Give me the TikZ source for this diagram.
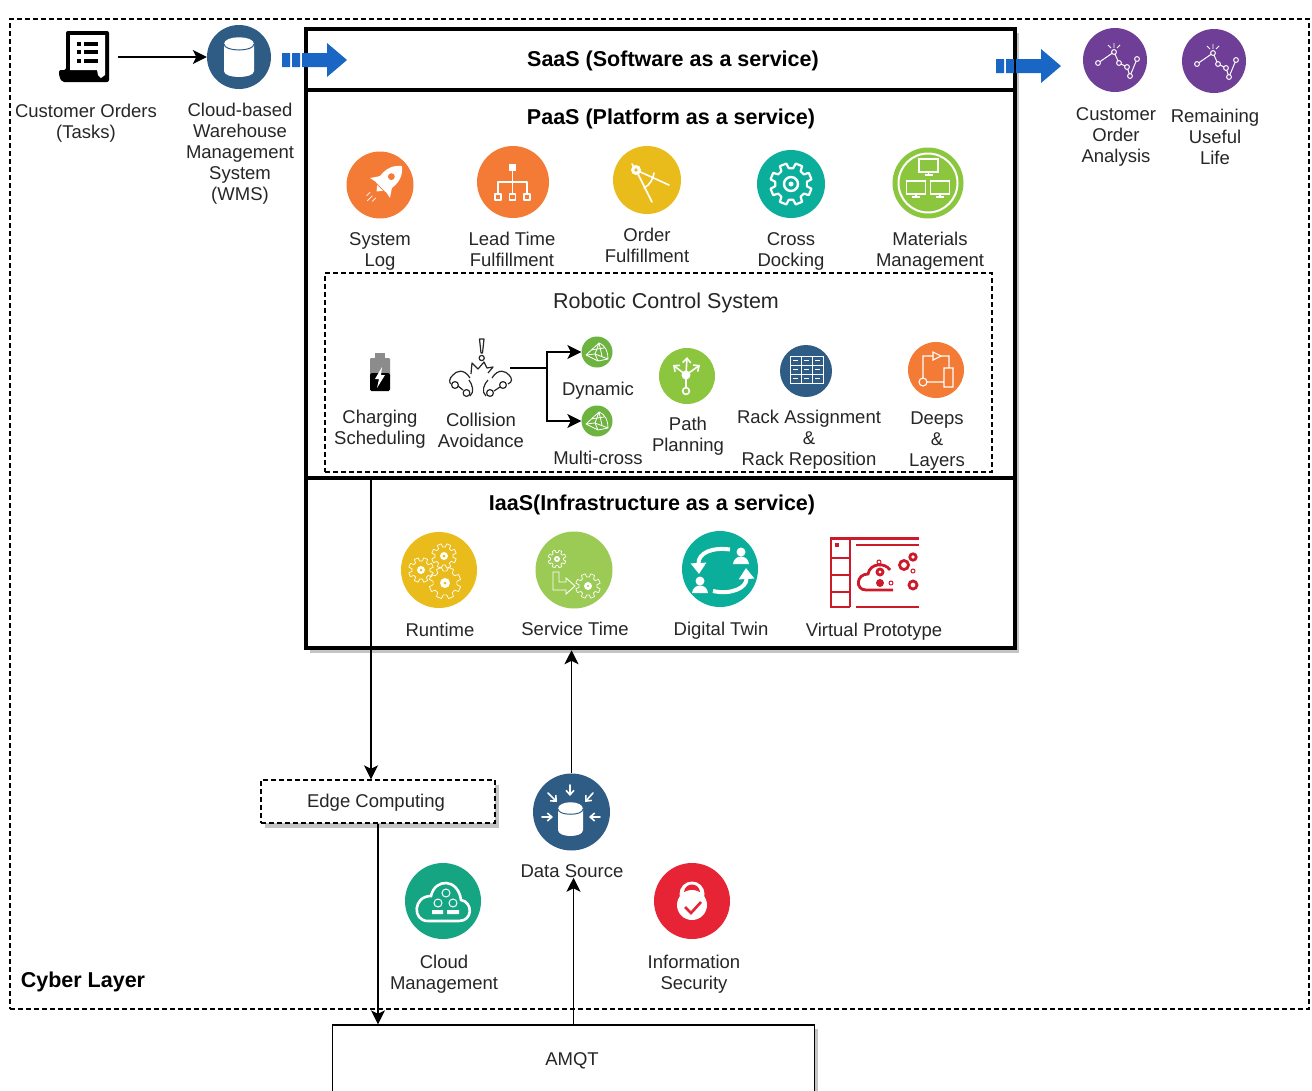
\documentclass[tikz,border=0pt]{standalone}
\usepackage{fontspec}
\setmainfont{Liberation Sans}
\usetikzlibrary{arrows.meta,calc}

\definecolor{cOrange}{HTML}{F47B36}
\definecolor{cYellow}{HTML}{E9BC1C}
\definecolor{cTeal}{HTML}{0BAE9A}
\definecolor{cLime}{HTML}{8CC63F}
\definecolor{cLeaf}{HTML}{6DB33F}
\definecolor{cSoft}{HTML}{9CCB55}
\definecolor{cNavy}{HTML}{2F5C85}
\definecolor{cMint}{HTML}{16A583}
\definecolor{cRed}{HTML}{E62435}
\definecolor{cCrimson}{HTML}{CC1A2B}
\definecolor{cPurple}{HTML}{6F3F98}
\definecolor{cBlue}{HTML}{1A66C4}
\definecolor{cShade}{HTML}{C4C4C4}

\newcommand{\GEARICON}[5]{%
  \draw[white, line width=#5, line join=round, shift={(#1,#2)}] (8:#3)
    foreach \a in {0,45,...,315} { -- (\a+8:#3) -- (\a+13:#4) -- (\a+32:#4) -- (\a+37:#3) } -- cycle;
}
\newcommand{\TRENDICON}[2]{%
  \draw[white, line width=1pt, fill=cPurple, shift={(#1,#2)}]
    (-17,3) -- (-1,-8) -- (4,3) -- (12,7) -- (15,16) -- (22,-1);
  \foreach \px/\py in {-17/3,-1/-8,4/3,12/7,15/16,22/-1}
    \draw[white, line width=1pt, fill=cPurple, shift={(#1,#2)}] (\px,\py) circle (2.4);
  \draw[white, line width=.8pt, shift={(#1,#2)}] (-1,-12) -- (-1,-17) (-4,-12) -- (-7,-15) (2,-12) -- (5,-15);
}
\newcommand{\MESHICON}[2]{%
  \draw[white, line width=.8pt, line join=round, shift={(#1,#2)}]
    (-11,3) -- (2,-9) .. controls (9,-6) and (11,0) .. (11,7) -- (-2,2) -- cycle
    (2,-9) -- (-2,2) (2,-9) -- (5,4) (-6,-2) -- (7,-4) (-11,3) -- (1,9) -- (11,7) (1,9) -- (-2,2);
}
\newcommand{\BLOCKARROW}[2]{%
  \fill[cBlue, shift={(#1,#2)}] (0,-7) rectangle (8,7) (10,-7) rectangle (18,7) (20,-7) rectangle (28,7);
  \fill[cBlue, shift={(#1,#2)}] (28,-7) -- (45,-7) -- (45,-17) -- (65,0) -- (45,17) -- (45,7) -- (28,7) -- cycle;
}

\begin{document}
\begin{tikzpicture}[x=1pt, y=-1pt]
  \tikzstyle{ICON} = [circle, inner sep=0pt, draw=none]
  \tikzstyle{TXT} = [align=center, inner sep=0pt, text=black!85, font=\fontsize{18.5}{21}\selectfont]
  \tikzstyle{TITLE} = [inner sep=0pt, font=\fontsize{21.5}{24}\selectfont\bfseries]
  \tikzstyle{LAYER} = [draw, rectangle, fill=white, line width=4pt, minimum width=709, inner sep=0pt]
  \tikzstyle{DASHED} = [draw, dash pattern=on 5pt off 3pt, rectangle, line width=1.4pt, inner sep=0pt]
  \tikzstyle{ARR} = [-{Stealth[length=14pt,width=14pt,inset=3.5pt]}, line width=1.4pt]
  \tikzstyle{GLYPH} = [white, line width=1.6pt, line cap=round, line join=round]
  \tikzstyle{BARB} = [GLYPH, -{Straight Barb[length=4.5pt,width=8pt]}]

  \useasboundingbox (0,0) rectangle (1312,1090);

  %%%%% FRAMES

  \node[DASHED, minimum width=1299, minimum height=990] (cyber) at (659.5,514) {};
  \fill[cShade] (310,33) rectangle (1019,653);
  \fill[cShade] (265,785) rectangle (499,828);
  \fill[cShade] (337,1029) rectangle (818,1095);

  \node[LAYER, minimum height=61] (saas) at (660.5,59.5) {};
  \node[LAYER, minimum height=388] (paas) at (660.5,284) {};
  \node[LAYER, minimum height=170, line width=4.5pt] (iaas) at (660.5,563) {};
  \node[DASHED, minimum width=667, minimum height=199] (robot) at (658.5,372.5) {};
  \node[DASHED, fill=white, minimum width=234, minimum height=43] (edge) at (378,801.5) {};
  \node[draw, fill=white, line width=1.3pt, minimum width=482, minimum height=67] (amqt) at (573.5,1058.5) {};

  %%%%% TEXT

  \node[TITLE] (tsaas) at (673,61) {SaaS (Software as a service)};
  \node[TITLE] (tpaas) at (671,119) {PaaS (Platform as a service)};
  \node[TITLE] (tiaas) at (652,505) {IaaS(Infrastructure as a service)};
  \node[TXT, font=\fontsize{21.5}{24}\selectfont] (trobot) at (666,303) {Robotic Control System};
  \node[TITLE] (tcyber) at (83,982) {Cyber Layer};

  \node[TXT] (lorders) at (86,123) {Customer Orders\\(Tasks)};
  \node[TXT] (lwms) at (240,153.5) {Cloud-based\\Warehouse\\Management\\System\\(WMS)};
  \node[TXT] (lcust) at (1116,137) {Customer\\Order\\Analysis};
  \node[TXT] (lrul) at (1215,137) {Remaining\\Useful\\Life};
  \node[TXT] (lsyslog) at (380,251) {System\\Log};
  \node[TXT] (llead) at (512,249) {Lead Time\\ Fulfillment};
  \node[TXT] (lorder) at (647,245) {Order\\Fulfillment};
  \node[TXT] (lcross) at (791,251) {Cross\\Docking};
  \node[TXT] (lmat) at (930,251) {Materials\\Management};
  \node[TXT] (lcharge) at (380,429) {Charging\\Scheduling};
  \node[TXT] (lcoll) at (481,430) {Collision\\Avoidance};
  \node[TXT] (ldyn) at (598,391) {Dynamic};
  \node[TXT] (lmulti) at (598,458) {Multi-cross};
  \node[TXT] (lpath) at (688,436) {Path\\Planning};
  \node[TXT] (lrack) at (809,440) {Rack Assignment\\\&\\Rack Reposition};
  \node[TXT] (ldeeps) at (937,441) {Deeps\\\&\\Layers};
  \node[TXT] (lrun) at (440,630) {Runtime};
  \node[TXT] (lserv) at (575,629) {Service Time};
  \node[TXT] (ltwin) at (721,631) {Digital Twin};
  \node[TXT] (lproto) at (874,632) {Virtual Prototype};
  \node[TXT] (ledge) at (376,803) {Edge Computing};
  \node[TXT] (ldsrc) at (572,871) {Data Source};
  \node[TXT] (lcloud) at (444,974) {Cloud\\Management};
  \node[TXT] (lsec) at (694,974) {Information\\Security};
  \node[TXT] (lamqt) at (572,1061) {AMQT};

  %%%%% ICONS

  \node[ICON, fill=cNavy, minimum size=64] (wms) at (239,57) {};
  \node[ICON, fill=cOrange, minimum size=67] (syslog) at (380,185) {};
  \node[ICON, fill=cOrange, minimum size=72] (lead) at (513,182) {};
  \node[ICON, fill=cYellow, minimum size=68] (order) at (647,180) {};
  \node[ICON, fill=cTeal, minimum size=68] (cross) at (791,184) {};
  \node[ICON, fill=cLime, minimum size=71] (mat) at (928,183) {};
  \node[ICON, fill=cLeaf, minimum size=31] (dyn) at (597,352) {};
  \node[ICON, fill=cLeaf, minimum size=31] (multi) at (597,421) {};
  \node[ICON, fill=cLime, minimum size=56] (path) at (687,376) {};
  \node[ICON, fill=cNavy, minimum size=52] (rack) at (806,371) {};
  \node[ICON, fill=cOrange, minimum size=56] (deeps) at (936,370) {};
  \node[ICON, fill=cYellow, minimum size=76] (run) at (439,570) {};
  \node[ICON, fill=cSoft, minimum size=77] (serv) at (574,570) {};
  \node[ICON, fill=cTeal, minimum size=76] (twin) at (720,569) {};
  \node[ICON, fill=cNavy, minimum size=77] (dsrc) at (571.5,812) {};
  \node[ICON, fill=cMint, minimum size=76] (cloud) at (443,901) {};
  \node[ICON, fill=cRed, minimum size=76] (sec) at (692,901) {};
  \node[ICON, fill=cPurple, minimum size=64] (cust) at (1115,60) {};
  \node[ICON, fill=cPurple, minimum size=64] (rul) at (1214,61) {};
  \node[minimum width=66, minimum height=52, inner sep=0pt] (orders) at (85,57) {};
  \node[minimum width=60, minimum height=30, inner sep=0pt] (coll) at (480,368) {};

  %%%%% GLYPHS

  % orders
  \fill[black, rounded corners=2pt] (66,31) -- (109,31) -- (109,82) -- (62,82) -- (59,76) -- (59,70) -- (66,70) -- cycle;
  \fill[white] (70,35) -- (105,35) -- (105,75) -- (101,78) -- (98,75) -- (97,70) -- (70,70) -- cycle;
  \foreach \yy in {42,50,59} {
    \fill[black] (77,\yy) rectangle (81,\yy+4);
    \fill[black] (84,\yy) rectangle (98,\yy+4);
  }

  % wms
  \fill[white] (224,44) .. controls (224,35) and (254,35) .. (254,44) -- (254,71) .. controls (254,79) and (224,79) .. (224,71) -- cycle;
  \draw[cNavy, line width=1pt] (224,44) .. controls (224,52) and (254,52) .. (254,44);

  % rocket
  \begin{scope}[shift={(385,183)}, rotate=-45]
    \fill[white] (0,-24) .. controls (10,-16) and (10,-6) .. (7,6) -- (-7,6) .. controls (-10,-6) and (-10,-16) .. (0,-24);
    \fill[white] (-6,-5) -- (-14,7) -- (-4,5) -- cycle (6,-5) -- (14,7) -- (4,5) -- cycle (-4,7) -- (4,7) -- (0,12) -- cycle;
    \fill[cOrange] (0,-9) circle (3.4);
    \draw[white, line width=.7pt] (-4,17) -- (-4,22) (0,18) -- (0,25) (4,17) -- (4,22);
  \end{scope}

  % lead time
  \fill[white] (509,164) rectangle (516,171);
  \draw[GLYPH] (512.5,171) -- (512.5,193) (498,193) -- (498,182) -- (527,182) -- (527,193);
  \foreach \xx in {498,512.5,527}
    \draw[GLYPH] (\xx-3,194) rectangle (\xx+3,200);

  % order compass
  \draw[GLYPH] (632,164) -- (636,170) -- (652,202) (636,170) -- (669,185) (654,173) .. controls (653,179) and (650,185) .. (644,188);
  \fill[white] (636,170) circle (5);
  \fill[cYellow] (636,170) circle (1.8);

  % cross gear
  \GEARICON{791}{184}{16}{21}{2.2pt}
  \draw[white, line width=2.4pt] (791,184) circle (7);
  \fill[white] (791,184) circle (2.5);

  % materials
  \draw[white, line width=2pt] (928,183) circle (29.5);
  \foreach \xx/\yy in {928.5/159,916/181,940/181} {
    \draw[white, line width=1.8pt] (\xx-9.5,\yy) rectangle (\xx+9.5,\yy+13);
    \draw[white, line width=1.6pt] (\xx,\yy+13) -- (\xx,\yy+16) (\xx-4,\yy+16) -- (\xx+4,\yy+16);
  }

  % battery
  \fill[black!45] (375,353) rectangle (385,358);
  \fill[black!45, rounded corners=1pt] (370,358) rectangle (390,378);
  \fill[black, rounded corners=1.5pt] (370,373) rectangle (390,391);
  \fill[white] (382,367) -- (375,379) -- (379,379) -- (377,388) -- (385,375) -- (381,375) -- cycle;

  % collision
  \begin{scope}[black!85, line width=1.2pt, line join=round]
    \draw (479.5,339) -- (484,339) -- (482.5,353) -- (481,353) -- cycle;
    \draw (481.7,358) circle (2.6);
    \draw (471,374) -- (472,363) -- (478,369) -- (484,362) -- (487,368) -- (493,367) -- (488,373);
    \draw (470,378) .. controls (464,368) and (456,371) .. (453,375) .. controls (449,378) and (449,383) .. (451,384);
    \draw (455,385) circle (3.4) (466.5,393) circle (3.4);
    \draw (458,386) -- (463,390);
    \draw (470,396) .. controls (475,392) and (472,384) .. (469,380);
    \draw (492,378) .. controls (498,368) and (506,371) .. (509,375) .. controls (512,378) and (513,382) .. (508,384);
    \draw (503,385) circle (3.4) (490,393) circle (3.4);
    \draw (500,387) -- (494,391);
    \draw (486,396) .. controls (481,392) and (484,384) .. (488,380);
  \end{scope}

  \MESHICON{597}{352}
  \MESHICON{597}{421}

  % path
  \draw[GLYPH, line width=2pt] (686,387) -- (686,375);
  \draw[white, line width=1.6pt] (686,391) circle (3.4);
  \fill[white] (686,375) circle (4.5);
  \draw[BARB] (686,375) -- (687,357);
  \draw[BARB] (686,375) -- (673,365);
  \draw[BARB] (686,375) -- (700,365);

  % rack
  \draw[white, line width=1pt] (790,356) rectangle (823,383);
  \foreach \xx in {801,812} \draw[white, line width=1pt] (\xx,356) -- (\xx,383);
  \foreach \yy in {365,374} \draw[white, line width=1pt] (790,\yy) -- (823,\yy);
  \foreach \xx in {795.5,806.5,817.5} \foreach \yy in {360.5,369.5,378.5}
    \draw[white, line width=.8pt] (\xx-2.5,\yy) -- (\xx+2.5,\yy);

  % deeps
  \draw[white, line width=1.1pt] (923,378) -- (923,356) -- (933,356) (941,356) -- (949,356) -- (949,368)
    (944,368) rectangle (953,387) (923,382) circle (4) (927,382) -- (944,382);
  \draw[white, line width=1.1pt] (933,352) -- (941,356) -- (933,360) -- cycle;

  % runtime
  \GEARICON{444}{556}{9}{12.5}{.7pt}
  \GEARICON{421}{570}{9}{12.5}{.7pt}
  \GEARICON{445}{583}{12}{16}{.7pt}
  \foreach \xx/\yy/\rr in {444/556/4,421/570/4,445/583/5} {
    \fill[white] (\xx,\yy) circle (\rr);
    \fill[cYellow] (\xx,\yy) circle (1.5);
  }

  % service
  \GEARICON{557}{559}{6.5}{9}{.7pt}
  \GEARICON{588}{586}{9}{12.5}{.7pt}
  \foreach \xx/\yy/\rr in {557/559/3,588/586/4} {
    \fill[white] (\xx,\yy) circle (\rr);
    \fill[cSoft] (\xx,\yy) circle (1.2);
  }
  \draw[white, line width=.9pt] (553,572) -- (559,572) -- (559,582) -- (566,582) -- (566,578) -- (575,586) -- (566,594) -- (566,590) -- (553,590) -- cycle;

  % twin
  \draw[white, line width=4pt, -{Triangle[length=11pt,width=15pt]}] (730,549.5) .. controls (712,547) and (698,553) .. (699,574);
  \draw[white, line width=4pt, -{Triangle[length=11pt,width=15pt]}] (713,591) .. controls (731,595) and (747,588) .. (746,568);
  \fill[white] (741,552) circle (4.5);
  \fill[white] (733,564) .. controls (734,554) and (748,554) .. (749,564) -- cycle;
  \fill[white] (700,581) circle (4.5);
  \fill[white] (692,593) .. controls (693,583) and (707,583) .. (708,593) -- cycle;

  % virtual prototype
  \begin{scope}[cCrimson, line width=2.8pt]
    \draw (919,538.5) -- (831,538.5) -- (831,607) -- (850,607);
    \draw (850,538) -- (850,607);
    \foreach \yy in {558,575,592} \draw (831,\yy) -- (850,\yy);
    \draw (856,545) -- (919,545) (856,607) -- (919,607);
    \fill (835,543) rectangle (839,547);
    \draw (890,570) .. controls (885,562) and (870,563) .. (868,574) .. controls (856,574) and (855,590) .. (866,590) -- (893,590);
    \draw (880,572) circle (3) (904,565) circle (4.5) (913,557) circle (3.2) (913,585) circle (4);
    \fill (880,583) circle (4);
    \draw[line width=1pt] (891,583) circle (2) (913,571) circle (2) (879,562) circle (2);
  \end{scope}

  % data source
  \fill[white] (558,809) .. controls (558,800) and (583,800) .. (583,809) -- (583,830) .. controls (583,838) and (558,838) .. (558,830) -- cycle;
  \draw[cNavy, line width=1pt] (558,809) .. controls (558,816) and (583,816) .. (583,809);
  \draw[BARB] (570,785) -- (570,796);
  \draw[BARB] (542,817) -- (553,817);
  \draw[BARB] (600,817) -- (589,817);
  \draw[BARB] (548,793) -- (557,802);
  \draw[BARB] (593,793) -- (585,802);

  % cloud
  \draw[white, line width=2.6pt] (428,921) -- (459,921) .. controls (473,921) and (473,902) .. (461,900) .. controls (458,878) and (435,878) .. (431,896) .. controls (413,896) and (412,921) .. (428,921);
  \draw[white, line width=1pt] (446,893) circle (4) (438,903) circle (4) (453,903) circle (4);
  \fill[white] (432,910) rectangle (443,914) (447,910) rectangle (459,914);

  % security
  \fill[white] (692,894) circle (12.5);
  \fill[cRed] (684,892) .. controls (685,882) and (699,882) .. (700,892) -- cycle;
  \fill[white] (692,905) circle (15);
  \draw[cRed, line width=2.6pt] (685,907) -- (691,913) -- (701,902);

  \TRENDICON{1115}{60}
  \TRENDICON{1214}{61}

  \BLOCKARROW{282}{60}
  \BLOCKARROW{996}{66}

  %%%%% EDGES

  \coordinate (c1) at (371,478);
  \coordinate (c2) at (547,368);

  \draw[ARR] (orders) -- (wms);
  \draw[ARR] (coll.east) -- (c2) |- (dyn);
  \draw[ARR] (c2) |- (multi);
  \draw[ARR] (c1) -- (c1 |- edge.north);
  \draw[ARR] (edge.south) -- (edge.south |- amqt.north);
  \draw[ARR] (dsrc) -- (dsrc |- iaas.south);
  \draw[ARR] (amqt.north) -- (amqt.north |- ldsrc.south);
\end{tikzpicture}
\end{document}
